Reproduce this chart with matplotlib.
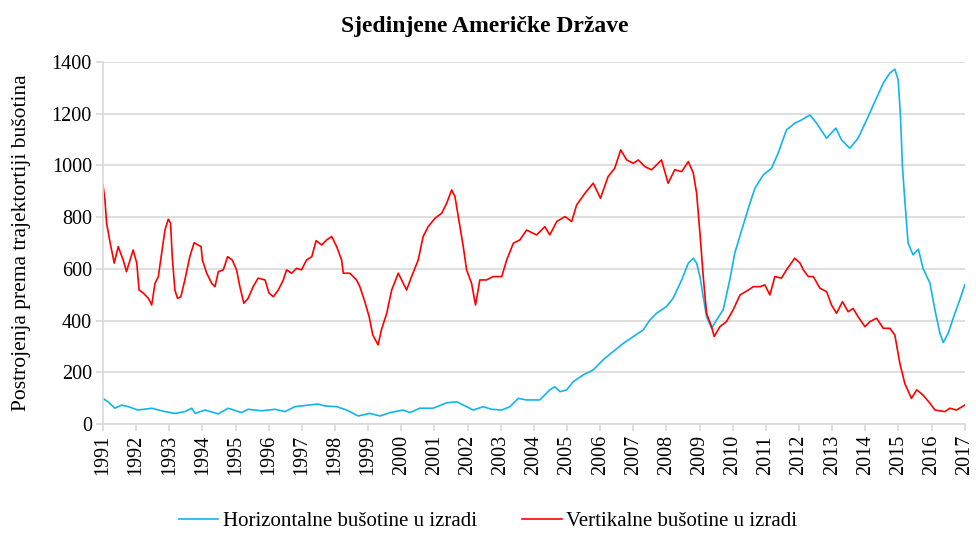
import numpy as np
import matplotlib
matplotlib.use("Agg")
import matplotlib.pyplot as plt

# Horizontal rigs (blue)
horiz_year = [1991.00, 1991.16, 1991.36, 1991.56, 1991.76, 1992.06, 1992.47, 1992.87,
              1993.17, 1993.47, 1993.68, 1993.78, 1994.08, 1994.48, 1994.78, 1995.18,
              1995.38, 1995.79, 1996.19, 1996.49, 1996.79, 1997.19, 1997.49, 1997.68,
              1998.05, 1998.35, 1998.70, 1999.05, 1999.36, 1999.66, 2000.06, 2000.26,
              2000.56, 2000.96, 2001.37, 2001.67, 2001.97, 2002.17, 2002.47, 2002.72,
              2003.03, 2003.28, 2003.53, 2003.78, 2004.18, 2004.48, 2004.63, 2004.79,
              2004.99, 2005.19, 2005.49, 2005.79, 2006.09, 2006.39, 2006.70, 2007.00,
              2007.30, 2007.50, 2007.70, 2008.00, 2008.20, 2008.46, 2008.66, 2008.81,
              2008.91, 2009.01, 2009.11, 2009.21, 2009.36, 2009.51, 2009.71, 2009.91,
              2010.06, 2010.27, 2010.52, 2010.67, 2010.92, 2011.17, 2011.37, 2011.62,
              2011.87, 2012.08, 2012.33, 2012.53, 2012.83, 2013.11, 2013.28, 2013.53,
              2013.78, 2014.04, 2014.29, 2014.54, 2014.74, 2014.89, 2014.99, 2015.06,
              2015.12, 2015.19, 2015.29, 2015.44, 2015.60, 2015.74, 2015.95, 2016.10,
              2016.25, 2016.35, 2016.50, 2016.70, 2016.85, 2017.00]
horiz_rigs = [99, 85, 61, 73, 67, 54, 61, 48,
              41, 48, 61, 41, 54, 39, 61, 44,
              57, 51, 57, 48, 67, 73, 77, 70,
              67, 54, 31, 41, 31, 44, 54, 44,
              61, 61, 82, 86, 67, 54, 67, 57,
              54, 67, 99, 93, 93, 132, 144, 125,
              132, 164, 190, 209, 248, 280, 312, 338,
              364, 402, 428, 454, 486, 557, 622, 641,
              622, 570, 492, 415, 370, 402, 441, 557,
              660, 750, 854, 912, 963, 989, 1047, 1137,
              1163, 1176, 1195, 1163, 1105, 1144, 1099, 1066,
              1105, 1176, 1247, 1318, 1357, 1372, 1331, 1189,
              995, 867, 699, 654, 676, 602, 544, 441,
              351, 315, 351, 428, 480, 538]

# Vertical rigs (red)
vert_year = [1991.00, 1991.06, 1991.11, 1991.21, 1991.34, 1991.46, 1991.61, 1991.71,
             1991.91, 1992.02, 1992.09, 1992.22, 1992.37, 1992.47, 1992.57, 1992.67,
             1992.77, 1992.87, 1992.97, 1993.04, 1993.09, 1993.17, 1993.25, 1993.35,
             1993.47, 1993.62, 1993.75, 1993.87, 1993.96, 1994.00, 1994.13, 1994.28,
             1994.38, 1994.48, 1994.63, 1994.76, 1994.90, 1995.03, 1995.13, 1995.25,
             1995.38, 1995.53, 1995.68, 1995.89, 1996.01, 1996.14, 1996.29, 1996.44,
             1996.54, 1996.69, 1996.84, 1996.99, 1997.14, 1997.30, 1997.43, 1997.60,
             1997.75, 1997.90, 1998.05, 1998.20, 1998.25, 1998.45, 1998.65, 1998.75,
             1998.90, 1999.03, 1999.14, 1999.30, 1999.40, 1999.56, 1999.71, 1999.91,
             2000.01, 2000.16, 2000.31, 2000.51, 2000.66, 2000.81, 2001.02, 2001.22,
             2001.37, 2001.52, 2001.62, 2001.72, 2001.87, 2001.97, 2002.12, 2002.24,
             2002.37, 2002.57, 2002.77, 2003.03, 2003.18, 2003.38, 2003.58, 2003.78,
             2004.08, 2004.33, 2004.48, 2004.69, 2004.94, 2005.14, 2005.29, 2005.54,
             2005.79, 2006.01, 2006.24, 2006.44, 2006.62, 2006.80, 2007.00, 2007.15,
             2007.35, 2007.55, 2007.85, 2008.05, 2008.25, 2008.46, 2008.66, 2008.81,
             2008.91, 2009.01, 2009.11, 2009.21, 2009.36, 2009.44, 2009.61, 2009.81,
             2010.01, 2010.22, 2010.47, 2010.62, 2010.82, 2010.97, 2011.12, 2011.27,
             2011.47, 2011.62, 2011.87, 2012.03, 2012.13, 2012.28, 2012.43, 2012.63,
             2012.83, 2012.98, 2013.13, 2013.31, 2013.48, 2013.63, 2013.78, 2013.99,
             2014.14, 2014.34, 2014.54, 2014.74, 2014.89, 2015.04, 2015.19, 2015.39,
             2015.55, 2015.74, 2015.95, 2016.10, 2016.40, 2016.55, 2016.75, 2017.00]
vert_rigs = [925, 866, 776, 705, 622, 686, 634, 589,
             673, 622, 518, 506, 486, 460, 544, 570,
             660, 750, 792, 776, 647, 518, 486, 492,
             557, 647, 701, 692, 686, 634, 583, 544,
             531, 589, 596, 647, 634, 596, 531, 467,
             486, 531, 564, 557, 506, 492, 518, 557,
             596, 583, 602, 596, 634, 647, 709, 692,
             712, 725, 686, 634, 583, 583, 557, 531,
             473, 415, 344, 306, 364, 428, 518, 583,
             557, 518, 570, 634, 725, 763, 796, 815,
             854, 905, 879, 802, 686, 596, 544, 460,
             557, 557, 570, 570, 634, 699, 712, 750,
             731, 763, 731, 783, 802, 783, 847, 892,
             931, 873, 957, 989, 1060, 1021, 1008, 1021,
             995, 983, 1021, 931, 983, 976, 1015, 970,
             892, 738, 570, 428, 376, 338, 376, 396,
             441, 499, 518, 531, 531, 538, 499, 570,
             564, 596, 641, 622, 596, 570, 570, 525,
             512, 460, 428, 473, 434, 447, 415, 376,
             396, 409, 370, 370, 344, 235, 157, 99,
             132, 112, 80, 54, 48, 61, 54, 73]

years = list(range(1991, 2018))
yticks = [0, 200, 400, 600, 800, 1000, 1200, 1400]

plt.rcParams['font.family'] = ['Liberation Serif', 'DejaVu Serif']

fig = plt.figure(figsize=(9.76, 5.34), dpi=100)
ax = fig.add_axes([0.1055, 0.206, 0.883, 0.678])

ax.plot(horiz_year, horiz_rigs, color='#12B4EC', linewidth=1.2, label='Horizontalne bušotine u izradi')
ax.plot(vert_year, vert_rigs, color='#FF0000', linewidth=1.2, label='Vertikalne bušotine u izradi')

ax.set_xlim(1991, 2017)
ax.set_ylim(0, 1400)
ax.set_xticks(years)
ax.set_xticklabels([str(y) for y in years], rotation=90, fontsize=14.5)
ax.set_yticks(yticks)
ax.set_yticklabels([str(v) for v in yticks], fontsize=14.5)
ax.yaxis.grid(True, color='#D9D9D9', linewidth=1.2)
ax.set_axisbelow(True)

for s in ['top', 'right']:
    ax.spines[s].set_visible(False)
for s in ['left', 'bottom']:
    ax.spines[s].set_color('#D9D9D9')
    ax.spines[s].set_linewidth(1.2)
ax.tick_params(axis='both', color='#D9D9D9', width=1.2, length=5, pad=3)

ax.set_ylabel('Postrojenja prema trajektortiji bušotina', fontsize=15.5)
ax.yaxis.set_label_coords(-0.0835, 0.5)
fig.text(0.497, 0.951, 'Sjedinjene Američke Države', fontsize=17, fontweight='bold',
         ha='center', va='center')

fig.legend(loc='center', bbox_to_anchor=(0.5, 0.024), ncol=2, frameon=False,
           fontsize=15, handlelength=1.9, handletextpad=0.2, columnspacing=2.2)

fig.savefig('out.png', dpi=100)
